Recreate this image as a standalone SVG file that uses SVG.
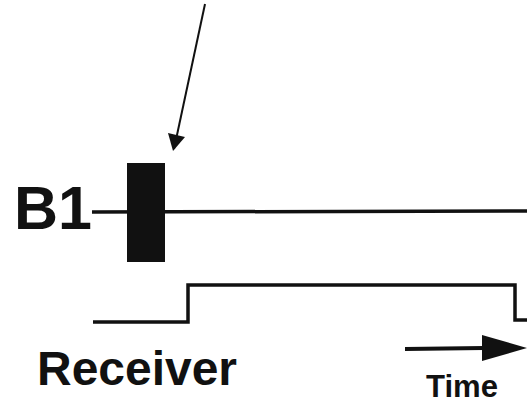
<svg xmlns="http://www.w3.org/2000/svg" width="527" height="403" viewBox="0 0 527 403">
<style>
.t{font-family:"Liberation Sans",Arial,sans-serif;font-weight:bold;fill:#111}
.ln{stroke:#111;stroke-width:3.5;fill:none;stroke-linejoin:miter}
</style>
<rect width="527" height="403" fill="#fff"/>
<g id="connectors">
<line x1="205" y1="4" x2="174" y2="149" stroke="#111" stroke-width="2"/>
<path d="M168,133 L185,137 L173,151 Z" fill="#111"/>
</g>
<g id="B1">
<text class="t" x="14" y="229" font-size="61">B1</text>
<line class="ln" x1="92" y1="212" x2="527" y2="211"/>
<rect x="127" y="163" width="38" height="99" fill="#111"/>
</g>
<g id="receiver-signal">
<path class="ln" d="M93,322 L188,322 L188,285 L515,285 L515,320 L527,320"/>
</g>
<g id="Receiver">
<text class="t" x="37" y="385" font-size="48" textLength="200" lengthAdjust="spacingAndGlyphs">Receiver</text>
</g>
<g id="Time">
<line x1="405" y1="349" x2="484" y2="348" stroke="#111" stroke-width="4"/>
<path d="M482,335 L527,348 L482,361 Z" fill="#111"/>
<text class="t" x="426" y="397" font-size="31" textLength="72" lengthAdjust="spacingAndGlyphs">Time</text>
</g>
</svg>
